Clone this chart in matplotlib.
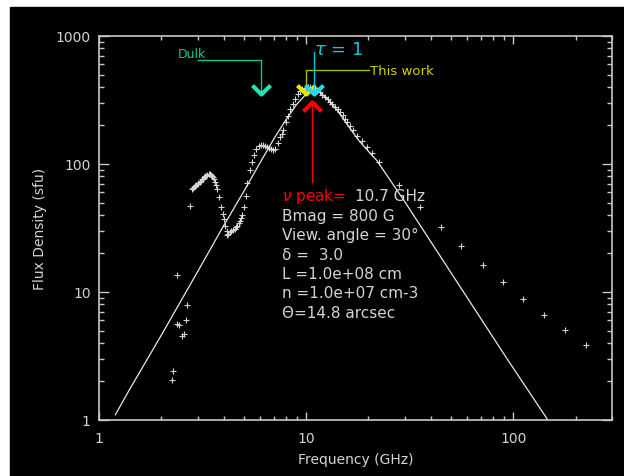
import matplotlib
matplotlib.use('Agg')
from matplotlib import pyplot as plt
from matplotlib.patches import Rectangle
from matplotlib.ticker import FuncFormatter, NullFormatter, LogLocator

# observed flux spectrum (GHz, sfu)
freq_low = [2.245, 2.286, 2.37, 2.39, 2.44, 2.52, 2.57, 2.62, 2.67, 2.75]
flux_low = [2.05, 2.41, 5.62, 13.6, 5.55, 4.51, 4.70, 6.01, 7.96, 47.2]

freq_mid = [2.80, 2.84, 2.88, 2.92, 2.95, 2.99, 3.02, 3.06, 3.10, 3.14, 3.18, 3.22,
            3.26, 3.30, 3.34, 3.38, 3.42, 3.46, 3.50, 3.54, 3.58, 3.62, 3.66, 3.73,
            3.81, 3.87, 3.95, 4.02, 4.08, 4.14, 4.17, 4.22, 4.29, 4.36, 4.45, 4.54,
            4.60, 4.66, 4.73, 4.80, 4.86, 4.92, 5.02, 5.11, 5.20, 5.36, 5.47]
flux_mid = [64, 65, 66, 67, 68, 70, 71, 72, 74, 76, 77, 79,
            80, 81, 82, 83, 83, 82, 81, 79, 76, 72, 69, 64,
            55, 46, 41, 37, 33, 30, 28, 28.5, 29.6, 30, 30.5, 31,
            32, 33, 34.5, 36, 38, 40, 46, 56, 71, 89, 104]

freq_peak = [5.6, 5.75, 5.9, 6.05, 6.2, 6.35, 6.5, 6.65, 6.8, 6.95, 7.1, 7.3,
             7.49, 7.63, 7.77, 8.00, 8.22, 8.37, 8.6, 8.85, 9.1, 9.35, 9.6, 9.9,
             10.2, 10.5, 10.75, 11.0, 11.35, 11.7, 12.0, 12.4, 12.7, 13.1, 13.4,
             13.8, 14.2, 14.6, 15.0, 15.4, 15.8, 16.3, 16.9, 17.6, 18.6, 19.7,
             20.8, 22.4]
flux_peak = [118, 130, 137, 140, 140, 138, 136, 133, 130, 128, 132, 145,
             162, 172, 185, 212, 238, 269, 295, 322, 350, 374, 385, 392,
             398, 397, 395, 390, 378, 363, 348, 334, 320, 305, 292,
             279, 267, 255, 240, 225, 212, 199, 183, 166, 151, 136,
             122, 104]

freq_high = [28.2, 35.3, 44.7, 55.9, 71.1, 88.8, 112, 141, 178, 224]
flux_high = [68.5, 46.4, 32.0, 22.8, 16.3, 12.0, 8.82, 6.65, 5.02, 3.85]

# model gyrosynchrotron spectrum
model_freq = [1.2, 1.41, 2.0, 3.0, 4.0, 5.0, 6.13, 7.0, 8.0, 9.0, 10.0, 10.7,
              11.5, 12.5, 14.0, 16.0, 18.0, 22.0, 30.0, 50.0, 93.6, 147]
model_flux = [1.1, 1.75, 4.6, 14.5, 33, 61, 109, 158, 222, 292, 352, 378,
              368, 330, 268, 198, 152, 106, 50.6, 14.2, 2.99, 1.0]

params = ["Bmag = 800 G", "View. angle = 30\u00b0", "\u03b4 =  3.0",
          "L =1.0e+08 cm", "n =1.0e+07 cm-3", "\u0398=14.8 arcsec"]

fg = '#d4d4d4'
fig = plt.figure(figsize=(6.24, 4.77), dpi=100)
fig.patches.append(Rectangle((10 / 624, 0), 1, (477 - 8) / 477,
                             transform=fig.transFigure, color='black', zorder=-10))
ax = fig.add_axes([99 / 624, 1 - 421 / 477, 513 / 624, 384 / 477])
ax.set_facecolor('black')
ax.set_xscale('log')
ax.set_yscale('log')
ax.set_xlim(1, 300)
ax.set_ylim(1, 1000)

pk = dict(ls='none', marker='+', ms=5, mew=0.8, color=fg)
ax.plot(freq_low, flux_low, **pk)
ax.plot(freq_mid, flux_mid, **pk)
ax.plot(freq_peak, flux_peak, **pk)
ax.plot(freq_high, flux_high, **pk)
ax.plot(model_freq, model_flux, color='#e8e8e8', lw=0.9)

# annotations
v_down = [(-1, 1), (0, 0), (1, 1)]
v_up = [(-1, -1), (0, 0), (1, -1)]
tip = 352
head = dict(ms=13, mew=3, mfc='none')
green, cyan, yellow = '#14c896', '#10c8d8', '#e6e600'
ax.plot([3.01, 6.07, 6.07], [649, 649, tip], color=green, lw=1)
ax.plot(6.07, tip, marker=v_down, color='#20e6b0', **head)
ax.text(2.41, 736, 'Dulk', color=green, fontsize=9, va='center', ha='left')

ax.plot([20.2, 10.03, 10.03], [542, 542, tip], color='#b4b400', lw=1)
ax.plot(10.03, tip, marker=v_down, color=yellow, **head)
ax.text(20.3, 542, 'This work', color='#d2d200', fontsize=9.5, va='center', ha='left')

ax.plot([10.9, 10.9], [750, tip], color=cyan, lw=1)
ax.plot(10.9, tip, marker=v_down, color='#20d8f0', **head)
ax.text(10.95, 790, r'$\tau$ = 1', color=cyan, fontsize=13, va='center', ha='left')

ax.plot([10.65, 10.65], [72, 303], color='red', lw=1)
ax.plot(10.65, 303, marker=v_up, color='red', **head)

x0 = (282 - 99) / 513
y0 = (421 - 197) / 384
dy = 19.4 / 384
red = ax.text(x0, y0, r'$\nu$ peak=', color='red', fontsize=11, va='center',
              transform=ax.transAxes)
ax.annotate('10.7 GHz', xy=(1, 0.5), xycoords=red, xytext=(7, 0),
            textcoords='offset points', color=fg, fontsize=11, va='center')
for i, s in enumerate(params):
    ax.text(x0, y0 - (i + 1) * dy, s, color=fg, fontsize=11, va='center',
            transform=ax.transAxes)

fmt = FuncFormatter(lambda v, _: f'{v:g}')
for a in (ax.xaxis, ax.yaxis):
    a.set_major_formatter(fmt)
    a.set_minor_formatter(NullFormatter())
    a.set_minor_locator(LogLocator(subs=range(2, 10)))
ax.tick_params(which='both', direction='in', top=True, right=True,
               color='#c8c8c8', labelcolor=fg, labelsize=10, width=1)
ax.tick_params(axis='x', which='major', length=5.8, pad=8)
ax.tick_params(axis='x', which='minor', length=2.9)
ax.tick_params(axis='y', which='major', length=7.4, pad=6)
ax.tick_params(axis='y', which='minor', length=3.7)
for sp in ax.spines.values():
    sp.set_color('#c8c8c8')
    sp.set_linewidth(1.2)

ax.set_xlabel('Frequency (GHz)', color=fg, fontsize=10, labelpad=5)
ax.set_ylabel('Flux Density (sfu)', color=fg, fontsize=10, labelpad=6)

fig.savefig('out.png', dpi=100, facecolor='white')
